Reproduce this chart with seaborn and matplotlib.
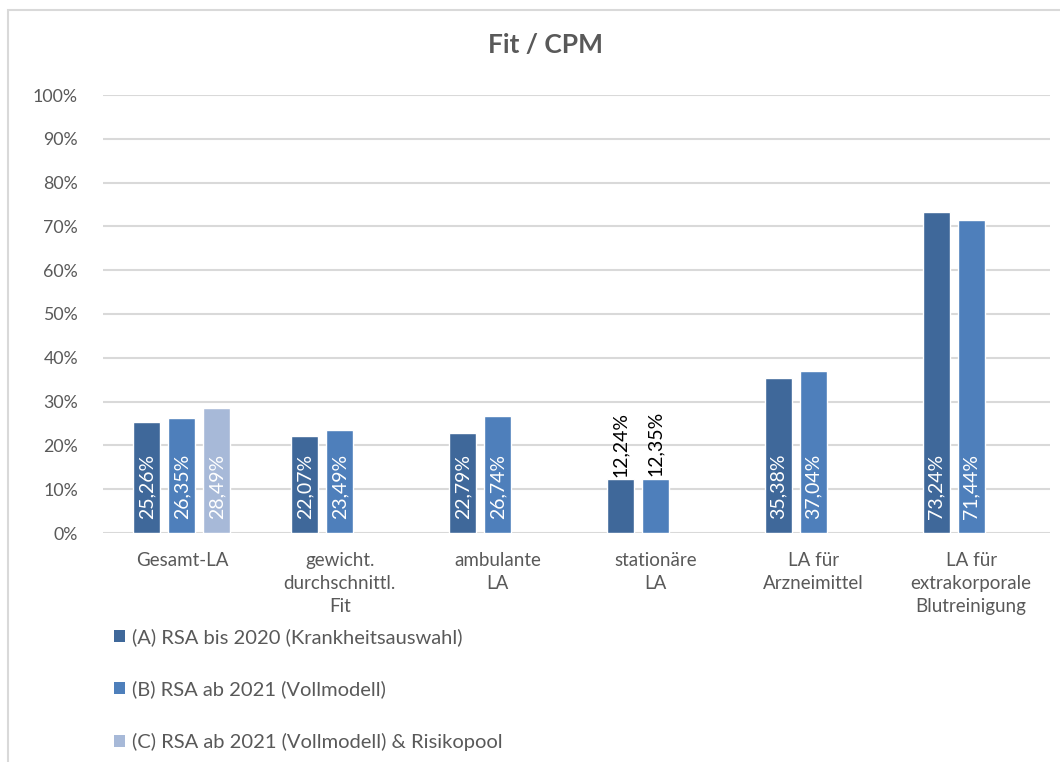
import matplotlib
matplotlib.use("Agg")
import matplotlib.pyplot as plt
from matplotlib.patches import Rectangle, Patch
import numpy as np
import pandas as pd
import seaborn as sns

categories = [
    "Gesamt-LA",
    "gewicht.\ndurchschnittl.\nFit",
    "ambulante\nLA",
    "stationäre\nLA",
    "LA für\nArzneimittel",
    "LA für\nextrakorporale\nBlutreinigung",
]
series_names = [
    "(A) RSA bis 2020 (Krankheitsauswahl)",
    "(B) RSA ab 2021 (Vollmodell)",
    "(C) RSA ab 2021 (Vollmodell) & Risikopool",
]
values_a = [25.26, 22.07, 22.79, 12.24, 35.38, 73.24]
values_b = [26.35, 23.49, 26.74, 12.35, 37.04, 71.44]
values_c = [28.49, np.nan, np.nan, np.nan, np.nan, np.nan]
colors = ["#3F689A", "#4E7FBB", "#A7B9D8"]

rows = []
for name, vals in zip(series_names, [values_a, values_b, values_c]):
    for cat, v in zip(categories, vals):
        rows.append({"Kategorie": cat, "Modell": name, "Wert": v})
df = pd.DataFrame(rows)

sns.set_theme(style="white")
plt.rcParams["font.family"] = ["Lato", "DejaVu Sans"]

grey = "#595959"
fig = plt.figure(figsize=(10.6, 7.62), dpi=100)
ax = fig.add_axes([103 / 1060, 1 - 533 / 762, (1050 - 103) / 1060, (533 - 95) / 762])

sns.barplot(
    data=df.dropna(), x="Kategorie", y="Wert", hue="Modell",
    order=categories, hue_order=series_names, palette=colors,
    width=0.665, gap=0.23, saturation=1, legend=False, ax=ax,
    err_kws={"linewidth": 0},
)

ax.set_ylim(0, 100)
ax.set_xlim(-0.5, len(categories) - 0.5)
ticks = np.arange(0, 101, 10)
ax.set_yticks(ticks)
ax.set_yticklabels([f"{t}%" for t in ticks])
ax.yaxis.grid(True, color="#D9D9D9", linewidth=1.5)
ax.set_axisbelow(True)
for s in ax.spines.values():
    s.set_visible(False)
ax.set_xlabel("")
ax.set_ylabel("")
ax.tick_params(axis="y", length=0, pad=18, labelsize=12.8, labelcolor=grey)
ax.tick_params(axis="x", length=0, pad=14, labelsize=13.5, labelcolor=grey)
for lbl in ax.get_xticklabels():
    lbl.set_linespacing(1.42)

# value labels: inside the bar at its base, above the bar for small values
for container in ax.containers:
    for bar in container:
        h = bar.get_height()
        if np.isnan(h):
            continue
        txt = f"{h:.2f}%".replace(".", ",")
        xc = bar.get_x() + bar.get_width() / 2
        if h < 15:
            ax.annotate(txt, xy=(xc, h), xytext=(0, 2), textcoords="offset points",
                        rotation=90, ha="center", va="bottom", fontsize=14,
                        color="#000000")
        else:
            ax.annotate(txt, xy=(xc, 0), xytext=(0, 10), textcoords="offset points",
                        rotation=90, ha="center", va="bottom", fontsize=14,
                        color="white")

fig.text(545 / 1060, 1 - 45 / 762, "Fit / CPM", ha="center", va="center",
         fontsize=19, fontweight="bold", color=grey)

handles = [Patch(facecolor=c, edgecolor="none") for c in colors]
fig.legend(handles, series_names, loc="upper left",
           bbox_to_anchor=(114 / 1060, 1 - 628 / 762), frameon=False,
           fontsize=14.5, labelcolor=grey, handlelength=0.55, handleheight=0.55,
           handletextpad=0.35, labelspacing=1.72, borderpad=0, borderaxespad=0)

fig.patches.append(Rectangle((8 / 1060, -0.1), 1.2, 1 - 10 / 762 + 0.1,
                             transform=fig.transFigure, fill=False,
                             edgecolor="#D9D9D9", linewidth=1.5))

fig.savefig("out.png", dpi=100)
